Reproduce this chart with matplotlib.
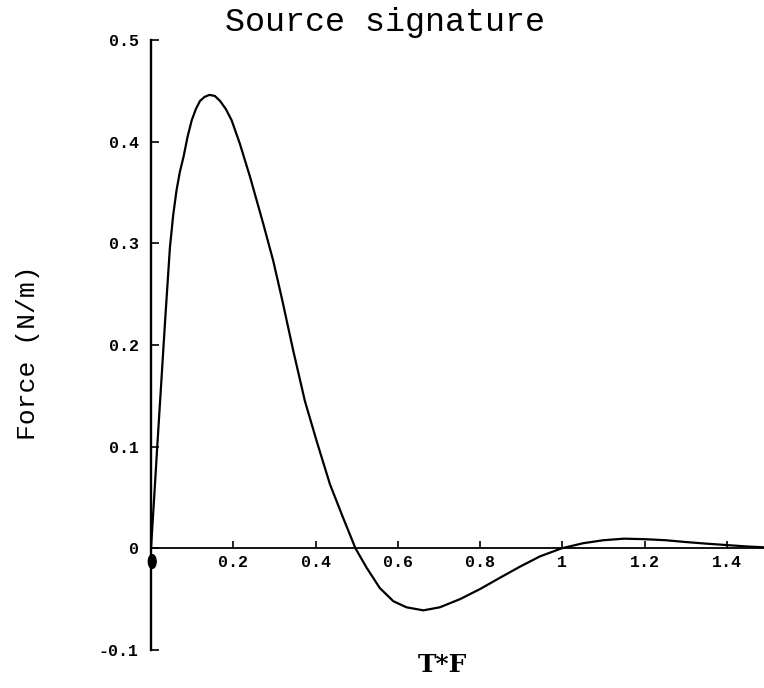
"""
Source signature plot (Force vs T*F), Mathematica-style axes crossing at origin.
"""

import matplotlib
matplotlib.use("Agg")
import matplotlib.pyplot as plt
from matplotlib.patches import Ellipse

# curve
tf = [0.0, 0.004, 0.008, 0.015, 0.024, 0.034, 0.046, 0.054, 0.062, 0.07,
      0.079, 0.089, 0.099, 0.109, 0.119, 0.13, 0.142, 0.155, 0.168, 0.182,
      0.196, 0.216, 0.241, 0.273, 0.297, 0.318, 0.346, 0.374, 0.403, 0.435,
      0.467, 0.497, 0.524, 0.556, 0.589, 0.621, 0.662, 0.702, 0.751, 0.8,
      0.848, 0.897, 0.945, 0.998, 1.05, 1.1, 1.15, 1.2, 1.25, 1.3,
      1.35, 1.4, 1.45, 1.49]
force = [0.0, 0.026, 0.052, 0.099, 0.157, 0.222, 0.296, 0.328, 0.352, 0.370,
         0.385, 0.405, 0.421, 0.432, 0.440, 0.444, 0.446, 0.445, 0.440, 0.432,
         0.421, 0.398, 0.365, 0.319, 0.283, 0.246, 0.194, 0.145, 0.105, 0.063,
         0.030, 0.0, -0.019, -0.039, -0.052, -0.058, -0.061, -0.058, -0.050, -0.040,
         -0.029, -0.018, -0.008, 0.0, 0.005, 0.008, 0.0095, 0.009, 0.008, 0.0062,
         0.0046, 0.0032, 0.0018, 0.001]

x_ticks = [0.2, 0.4, 0.6, 0.8, 1.0, 1.2, 1.4]
x_labels = ["0.2", "0.4", "0.6", "0.8", "1", "1.2", "1.4"]
y_ticks = [-0.1, 0, 0.1, 0.2, 0.3, 0.4, 0.5]
y_labels = ["-0.1", "0", "0.1", "0.2", "0.3", "0.4", "0.5"]

# blob at the origin in the scan
dot_xy = (0.003, -0.013)

fig = plt.figure(figsize=(7.64, 6.88), dpi=100)
ax = fig.add_axes([151 / 764, 38 / 688, 613 / 764, 610 / 688])

ax.plot(tf, force, color="black", linewidth=1.6, solid_capstyle="round",
        solid_joinstyle="round")
ax.add_patch(Ellipse(dot_xy, 0.019, 0.0135, color="black", zorder=5,
                     clip_on=False))

ax.set_xlim(0, 1.49)
ax.set_ylim(-0.1, 0.5)

for side in ("top", "right"):
    ax.spines[side].set_visible(False)
ax.spines["bottom"].set_position(("data", 0))
ax.spines["left"].set_position(("data", 0))
ax.spines["bottom"].set_linewidth(1.3)
ax.spines["left"].set_linewidth(1.7)

tick_font = dict(family="Liberation Mono", weight="bold", size=12)
ax.set_xticks(x_ticks)
ax.set_xticklabels(x_labels, fontdict=tick_font)
ax.set_yticks(y_ticks)
ax.set_yticklabels(y_labels, fontdict=tick_font)
ax.tick_params(axis="x", direction="in", length=5, width=1.2, pad=5)
ax.tick_params(axis="y", direction="in", length=6, width=1.2, pad=9)

fig.text(385 / 764, 1 - 22 / 688, "Source signature", family="Liberation Mono",
         size=24, ha="center", va="center")
fig.text(28 / 764, 1 - 353 / 688, "Force (N/m)", family="Liberation Mono",
         size=19, rotation=90, ha="center", va="center")
fig.text(442 / 764, 1 - 665 / 688, "T*F", family="DejaVu Serif", weight="bold",
         size=18, ha="center", va="center")

plt.savefig("out.png", dpi=100)
